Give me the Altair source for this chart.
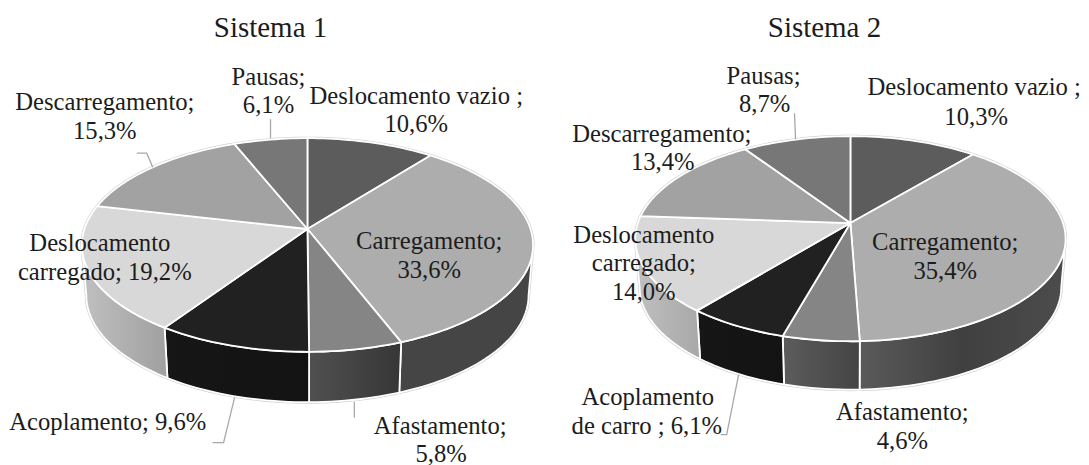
import math
import altair as alt
import pandas as pd

# ---- values ----
categories = ["Deslocamento vazio", "Carregamento", "Afastamento", "Acoplamento",
              "Deslocamento carregado", "Descarregamento", "Pausas"]
sistema1 = [10.6, 33.6, 5.8, 9.6, 19.2, 15.3, 6.1]
sistema2 = [10.3, 35.4, 4.6, 6.1, 14.0, 13.4, 8.7]
titles = ["Sistema 1", "Sistema 2"]

labels1 = [["Deslocamento vazio ;", "10,6%"], ["Carregamento;", "33,6%"], ["Afastamento;", "5,8%"],
           ["Acoplamento; 9,6%"], ["Deslocamento", "carregado; 19,2%"], ["Descarregamento;", "15,3%"],
           ["Pausas;", "6,1%"]]
labels2 = [["Deslocamento vazio ;", "10,3%"], ["Carregamento;", "35,4%"], ["Afastamento;", "4,6%"],
           ["Acoplamento", "de carro ; 6,1%"], ["Deslocamento", "carregado;", "14,0%"],
           ["Descarregamento;", "13,4%"], ["Pausas;", "8,7%"]]

# ---- styling and layout ----
top_fill = ["#5c5c5c", "#adadad", "#858585", "#212121", "#d8d8d8", "#a2a2a2", "#777777"]
side_stops1 = [["#4a4a4a", "#4a4a4a"], ["#454545", "#454545"], ["#505050", "#363636"],
               ["#161616", "#131313"], ["#c0c0c0", "#a0a0a0"], ["#888888", "#888888"], ["#666666", "#666666"]]
side_stops2 = [["#4a4a4a", "#4a4a4a"], ["#5a5a5a", "#404040", "#4c4c4c"], ["#5c5c5c", "#444444"],
               ["#161616", "#131313"], ["#c0c0c0", "#a8a8a8"], ["#888888", "#888888"], ["#666666", "#666666"]]
FONT = "Liberation Serif"
INK = "#1c1c1c"
LEADER = "#a8a8a8"
geom1 = dict(cx=308, cy=229, c=223.5, b=104.6, p=0.1496, depth=50.5, shrink=0.98)
geom2 = dict(cx=852, cy=223, c=213.0, b=100.3, p=0.1532, depth=48.5, shrink=0.98)
label_pos1 = [[(417, 97), (417, 125)], [(430, 242), (430, 271)], [(441, 427), (442, 455)],
              [(108, 423)], [(100, 244), (105, 273)], [(105, 103), (105, 132)], [(269, 78), (269, 106)]]
label_pos2 = [[(976, 88), (978, 118)], [(947, 243), (947, 272)], [(904, 413), (904, 442)],
              [(649, 398), (648, 427)], [(645, 236), (645, 264), (645, 293)],
              [(663, 135), (664, 163)], [(765, 77), (766, 105)]]
leaders = [[(271, 119), (271, 138)], [(137, 153), (147, 153), (153, 167)], [(355, 402), (355, 418)],
           [(235, 398), (224, 443), (213, 443)], [(796, 113), (797, 139)],
           [(740, 375), (728, 435), (722, 435)]]
title_pos = [(271, 28), (826, 28)]

W, H = 1073, 449
X = alt.X("x:Q", scale=alt.Scale(domain=[8, 8 + W]), axis=None)
Y = alt.Y("y:Q", scale=alt.Scale(domain=[8 + H, 8]), axis=None)


def rim(g, frac, low=False):
    t = 2 * math.pi * frac
    u, v = math.sin(t), math.cos(t)
    d = 1 + g["p"] * v
    x = g["c"] * u / d
    y = g["cy"] - g["b"] * v / d
    if low:
        return g["cx"] + x * g["shrink"], y + g["depth"]
    return g["cx"] + x, y


def arc(g, a, b, low=False):
    n = max(2, int(abs(b - a) * 240))
    return [rim(g, a + (b - a) * i / n, low) for i in range(n + 1)]


def poly(pts, **mark):
    df = pd.DataFrame({"x": [p[0] for p in pts] + [pts[0][0]],
                       "y": [p[1] for p in pts] + [pts[0][1]],
                       "i": list(range(len(pts) + 1))})
    return alt.Chart(df).mark_line(**mark).encode(x=X, y=Y, order="i:Q")


def grad(cols):
    n = len(cols) - 1
    return alt.Gradient(gradient="linear", x1=0, x2=1, y1=0, y2=0,
                        stops=[alt.GradientStop(color=c, offset=i / n) for i, c in enumerate(cols)])


layers = []
for g, vals, stops in ((geom1, sistema1, side_stops1), (geom2, sistema2, side_stops2)):
    total = sum(vals)
    edges = [0.0]
    for v in vals:
        edges.append(edges[-1] + v / total)
    vis_a = math.acos(-g["p"]) / (2 * math.pi)
    vis_b = 1 - vis_a
    # soft outer outline of the whole disc and wall
    outline = arc(g, vis_a, vis_b, True) + arc(g, vis_b, 1 + vis_a)
    layers.append(poly(outline, fill="#ffffff", stroke="#cfcfcf", strokeWidth=3))
    # walls
    for k in range(len(vals)):
        a, b = max(edges[k], vis_a), min(edges[k + 1], vis_b)
        if b <= a:
            continue
        pts = arc(g, a, b) + arc(g, b, a, True)
        layers.append(poly(pts, fill=grad(stops[k]), stroke="#ffffff", strokeWidth=1.8))
    # top slices
    for k in range(len(vals)):
        pts = [(g["cx"], g["cy"])] + arc(g, edges[k], edges[k + 1])
        layers.append(poly(pts, fill=top_fill[k], stroke="#ffffff", strokeWidth=1.8))

for ln in leaders:
    df = pd.DataFrame({"x": [p[0] for p in ln], "y": [p[1] for p in ln], "i": range(len(ln))})
    layers.append(alt.Chart(df).mark_line(color=LEADER, strokeWidth=1.3).encode(x=X, y=Y, order="i:Q"))

rows = []
for labs, poss in ((labels1, label_pos1), (labels2, label_pos2)):
    for lab, pos in zip(labs, poss):
        for line, (x, y) in zip(lab, pos):
            rows.append({"x": x, "y": y, "t": line})
layers.append(alt.Chart(pd.DataFrame(rows)).mark_text(
    font=FONT, fontSize=24.7, color=INK, align="center", baseline="middle").encode(x=X, y=Y, text="t:N"))
tdf = pd.DataFrame({"x": [p[0] for p in title_pos], "y": [p[1] for p in title_pos], "t": titles})
layers.append(alt.Chart(tdf).mark_text(
    font=FONT, fontSize=29, color=INK, align="center", baseline="middle").encode(x=X, y=Y, text="t:N"))

chart = alt.layer(*layers).properties(width=W, height=H, padding=0, background="#ffffff").configure_view(stroke=None)
chart.save("out.html", embed_options={"renderer": "svg", "actions": False})
